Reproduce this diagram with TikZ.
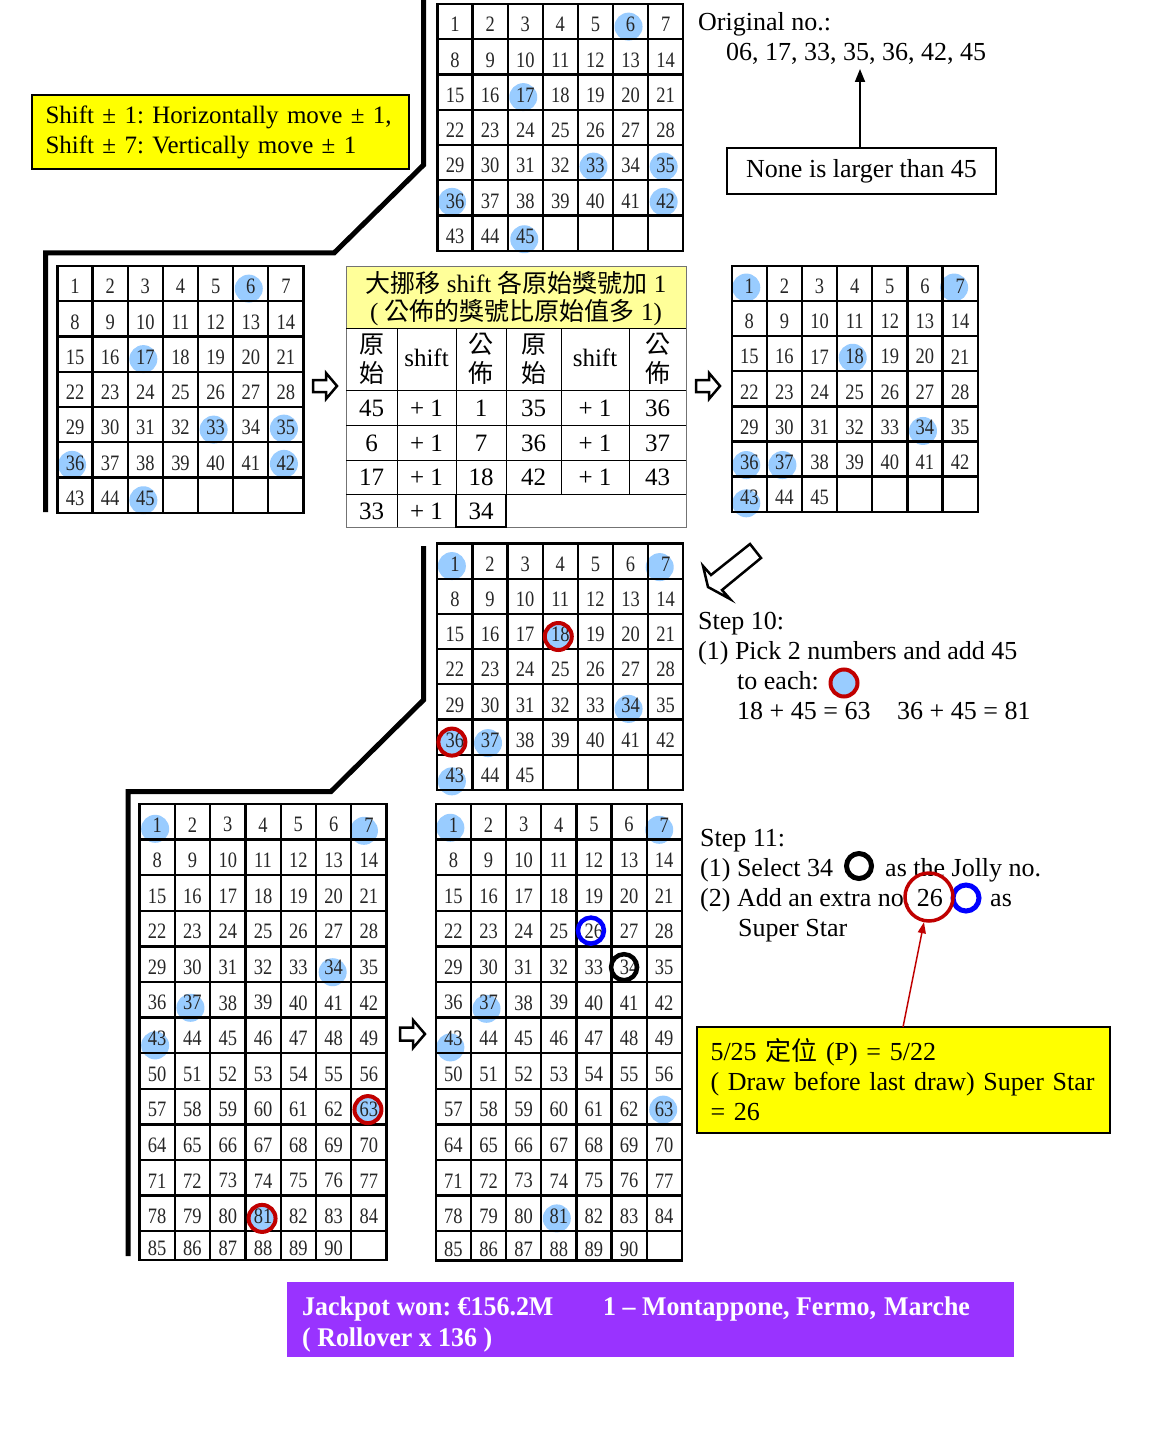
\documentclass[tikz,border=0pt]{standalone}
\usepackage{fontspec}
\setmainfont{Liberation Serif}
\newfontfamily\gridfont{Liberation Serif}[FakeStretch=0.84]
\newfontfamily\jpfont{Liberation Serif}[FakeStretch=0.96]
\newfontfamily\cjk{Noto Sans CJK TC}
\usetikzlibrary{backgrounds,arrows.meta}
\definecolor{hlblue}{HTML}{99CCFF}
\definecolor{ringred}{HTML}{C00000}
\definecolor{boxyellow}{HTML}{FFFF00}
\definecolor{hdryellow}{HTML}{FFFF99}
\definecolor{purplebg}{HTML}{9933FF}
\tikzset{
  gl/.style={line width=2.3pt, black, line cap=rect},
  num/.style={font=\gridfont\fontsize{22}{22}\selectfont, inner sep=0pt, text=black!85},
  hl/.style={fill=hlblue},
  redring/.style={draw=ringred, line width=4pt},
  bluering/.style={draw=blue, line width=4.5pt},
  blackring/.style={draw=black, line width=4.5pt},
  bracket/.style={line width=5pt, line join=miter},
  txt/.style={anchor=base west, inner sep=0pt, font=\fontsize{26}{30}\selectfont},
  jptxt/.style={anchor=base west, inner sep=0pt, text=white, font=\jpfont\bfseries\fontsize{27}{30}\selectfont},
  hollow/.style={draw, line width=2.5pt, fill=white, line join=miter},
  tcell/.style={font=\fontsize{25}{29}\selectfont, inner sep=0pt, align=center},
  tline/.style={line width=1pt, black},
}
% name, left, colwidth, top, rowheight, nrows, bottom, maxnum
\newcommand\drawgrid[8]{%
  \pgfmathsetmacro\gridright{#2+7*#3}%
  \pgfmathtruncatemacro\lastrow{#6-1}%
  \foreach \r in {0,...,\lastrow} {\draw[gl] (#2,{#4+\r*#5}) -- (\gridright,{#4+\r*#5});}
  \draw[gl] (#2,#7) -- (\gridright,#7);
  \foreach \c in {0,...,7} {\draw[gl] ({#2+\c*#3},#4) -- ({#2+\c*#3},#7);}
  \foreach \n in {1,...,#8} {
    \pgfmathtruncatemacro\rr{(\n-1)/7}
    \pgfmathtruncatemacro\cc{mod(\n-1,7)}
    \pgfmathsetmacro\yy{ifthenelse(\rr<#6-1, #4+#5*(\rr+0.5), (#4+#5*(#6-1)+#7)/2)}
    \node[num] (#1-\n) at ({#2+#3*(\cc+0.5)},{\yy+3}) {\n};
  }
}
\begin{document}
\frenchspacing
\begin{tikzpicture}[x=1pt,y=-1pt]
\begin{pgfonlayer}{background}
\fill[white] (0,0) rectangle (1153,1431);
\end{pgfonlayer}
\useasboundingbox (0,0) rectangle (1153,1431);

% ---- brackets
\draw[bracket] (423.5,0) -- (423.5,165) -- (334,253) -- (45.5,253) -- (45.5,512);
\draw[bracket] (423.5,546) -- (423.5,700) -- (331,791.5) -- (128,791.5) -- (128,1256);

% ---- yellow note
\node[draw, line width=2.5pt, fill=boxyellow, minimum width=377pt, minimum height=74pt,
      text width=354pt, inner xsep=11.5pt, align=left, font=\fontsize{25}{30}\selectfont]
      (shiftbox) at (220.5,132) {\hspace{2pt}Shift ± 1: Horizontally move ± 1,\\\hspace{2pt}Shift ± 7: Vertically move ± 1};

% ---- grids
\drawgrid{gA}{437.5}{35.1}{4}{35.25}{7}{251}{45}
\drawgrid{gB}{57.5}{35.14}{266}{35.25}{7}{513}{45}
\drawgrid{gC}{731.7}{35.14}{266}{35.1}{7}{512}{45}
\drawgrid{gD}{437.3}{35.14}{543.5}{35.2}{7}{790}{45}
\drawgrid{gE}{139.5}{35.3}{804}{35.6}{13}{1260}{90}
\drawgrid{gF}{435.8}{35.14}{804}{35.6}{13}{1260.5}{90}

% ---- highlights
\begin{pgfonlayer}{background}
\foreach \g/\n/\dx/\dy in {gA/6/-2/2, gA/17/-2/2, gA/33/-2/1, gA/35/-2/1, gA/36/-3/1, gA/42/-2/1, gA/45/-1/3,
  gB/6/-2/2, gB/17/-2/2, gB/33/-2/2, gB/35/-2/1, gB/36/-3/2, gB/42/-2/1, gB/45/-2/2,
  gC/1/-3/1, gC/7/-6/1, gC/18/-2/1, gC/34/-2/4, gC/36/-3/3, gC/37/-2/3, gC/43/-3/6,
  gD/1/-3/2, gD/7/-6/3, gD/18/-2/2, gD/34/-2/4, gD/36/-3/2, gD/37/-2/3, gD/43/-3/6,
  gE/1/-2/4, gE/7/-5/6, gE/34/-1/5, gE/37/-2/5, gE/43/-2/7, gE/63/-1/0, gE/81/-1/2,
  gF/1/-3/3, gF/7/-5/5, gF/37/-2/6, gF/43/-3/9, gF/63/-1/0, gF/81/-2/2}
  \fill[hl] ([shift={(\dx,\dy)}]\g-\n.center) circle (14pt);
\end{pgfonlayer}

% ---- rings on grids
\foreach \g/\n/\dx/\dy in {gD/18/-2/2, gD/36/-3/2, gE/63/-1/0, gE/81/-1/2}
  \draw[redring] ([shift={(\dx,\dy)}]\g-\n.center) circle (13.5pt);
\draw[bluering] ([shift={(-3,-1)}]gF-26.center) circle (13pt);
\draw[blackring] ([shift={(-5,0)}]gF-34.center) circle (13pt);

% ---- original numbers
\node[txt] (orighead) at (698,31) {Original no.:};
\node[txt] (orignums) at (726,61) {06, 17, 33, 35, 36, 42, 45};
\node[draw, line width=2pt, minimum width=269pt, minimum height=46pt, inner sep=0pt,
      font=\fontsize{26}{30}\selectfont] (nonebox) at (861.5,171) {None is larger than 45};
\coordinate (origtip) at (860,69);
\draw[line width=1.8pt, -{Triangle[length=13pt,width=10pt]}] (nonebox.north -| origtip) -- (origtip);

% ---- table
\fill[hdryellow] (346,266) rectangle (686,328);
\draw[line width=1pt, black!55] (346,266) rectangle (686,527);
\draw[tline] (346,328) -- (686,328) (346,390) -- (686,390) (346,425) -- (686,425)
             (346,460) -- (686,460) (346,494) -- (686,494);
\foreach \x in {397,456,506,561,629} \draw[tline] (\x,328) -- (\x,494);
\draw[tline] (397,494) -- (397,527);
\draw[line width=2pt] (456,494) -- (456,527) -- (506,527) -- (506,494);
\node[tcell] (th1) at (516,283) {{\cjk 大挪移} shift {\cjk 各原始獎號加} 1};
\node[tcell] (th2) at (516,313) {( {\cjk 公佈的獎號比原始值多} 1)};
\node[tcell, font=\cjk\fontsize{25}{29}\selectfont] (ch1) at (371.5,359) {原\\始};
\node[tcell] (ch2) at (426.5,358) {shift};
\node[tcell, font=\cjk\fontsize{25}{29}\selectfont] (ch3) at (481,359) {公\\佈};
\node[tcell, font=\cjk\fontsize{25}{29}\selectfont] (ch4) at (533.5,359) {原\\始};
\node[tcell] (ch5) at (595,358) {shift};
\node[tcell, font=\cjk\fontsize{25}{29}\selectfont] (ch6) at (657.5,359) {公\\佈};
\foreach \a/\b/\y [count=\i] in {45/1/408, 6/7/443, 17/18/477, 33/34/511} {
  \node[tcell] (ta\i) at (371.5,\y) {\a};
  \node[tcell] (tb\i) at (426.5,\y) {+ 1};
  \node[tcell] (tc\i) at (481,\y) {\b};
}
\foreach \a/\b/\y [count=\i] in {35/36/408, 36/37/443, 42/43/477} {
  \node[tcell] (td\i) at (533.5,\y) {\a};
  \node[tcell] (te\i) at (595,\y) {+ 1};
  \node[tcell] (tf\i) at (657.5,\y) {\b};
}

% ---- hollow arrows
\draw[hollow] (313,380) -- (326,380) -- (326,373) -- (337,386) -- (326,399) -- (326,392) -- (313,392) -- cycle;
\draw[hollow] (696,380) -- (709,380) -- (709,373) -- (720,386) -- (709,399) -- (709,392) -- (696,392) -- cycle;
\draw[hollow] (400,1027.5) -- (413,1027.5) -- (413,1020) -- (425,1034) -- (413,1048) -- (413,1040.5) -- (400,1040.5) -- cycle;
\draw[hollow] (750,544) -- (711,575) -- (703,566) -- (708,587) -- (730,599) -- (722,590) -- (761,558) -- cycle;

% ---- step 10
\node[txt] (s10a) at (698,629) {Step 10:};
\node[txt] (s10b) at (698,659) {(1) Pick 2 numbers and add 45};
\node[txt] (s10c) at (737,689) {to each:};
\node[circle, fill=hlblue, draw=ringred, line width=4pt, minimum size=27pt, inner sep=0pt] (s10ring) at (844,683) {};
\node[txt] (s10d) at (737,719) {18 + 45 = 63};
\node[txt] (s10e) at (897,719) {36 + 45 = 81};

% ---- step 11
\node[txt] (s11a) at (700,846) {Step 11:};
\node[txt] (s11b) at (700,876) {(1) Select 34};
\node[circle, draw=black, line width=5pt, minimum size=25pt, inner sep=0pt] (jolly) at (859,866) {};
\node[txt] (s11c) at (885,876) {as the Jolly no.};
\node[txt] (s11d) at (700,906) {(2) Add an extra no. 26};
\node[circle, draw=blue, line width=5pt, minimum size=26pt, inner sep=0pt] (ssring) at (966,898) {};
\node[txt] (s11e) at (990,906) {as};
\node[txt] (s11f) at (738,936) {Super Star};
\node[circle, draw=ringred, line width=3.5pt, minimum size=48pt, inner sep=0pt] (ring26) at (929,897) {};

% ---- super star box
\node[draw, line width=2.5pt, fill=boxyellow, minimum width=413pt, minimum height=106pt,
      text width=386pt, inner xsep=13.5pt, align=left, font=\fontsize{26}{30}\selectfont]
      (spbox) at (903.5,1080) {5/25 {\cjk 定位} (P) = 5/22\\( Draw before last draw) Super Star\\= 26};
\coordinate (arrS) at (903,1027);
\draw[ringred, line width=1.5pt, -{Triangle[length=11pt,width=8pt]}] (arrS) -- (ring26);

% ---- jackpot box
\node[fill=purplebg, minimum width=727pt, minimum height=75pt, inner sep=0pt] (jpbox) at (650.5,1319.5) {};
\node[jptxt] (jp1) at (302,1315) {Jackpot won: €156.2M};
\node[jptxt] (jp2) at (603,1315) {1 – Montappone, Fermo,\hspace{8pt}Marche};
\node[jptxt] (jp3) at (302,1346) {( Rollover x 136 )};
\end{tikzpicture}
\end{document}
